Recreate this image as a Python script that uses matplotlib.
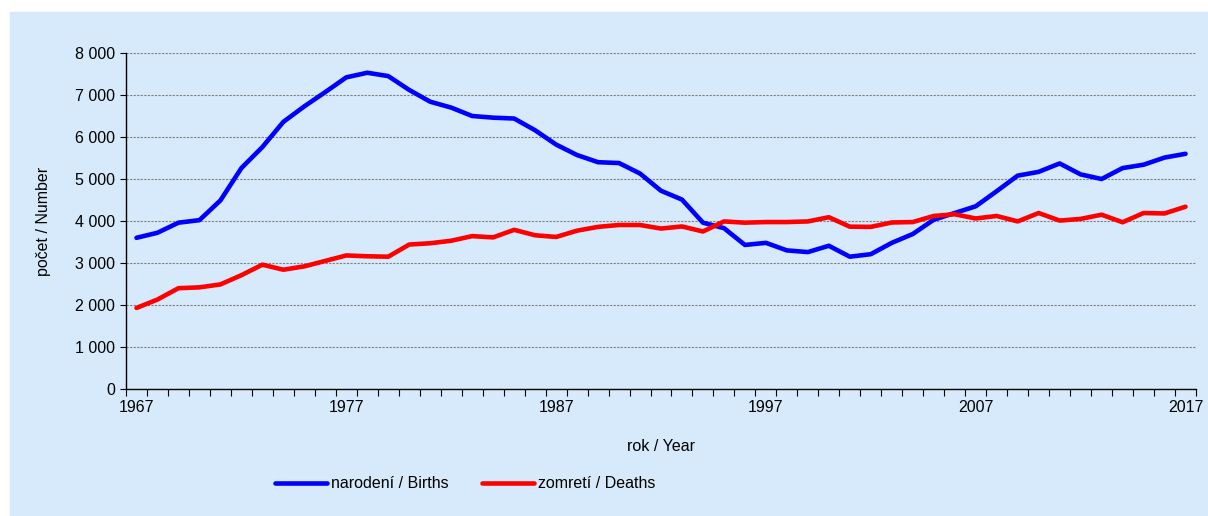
import numpy as np
import matplotlib.pyplot as plt
from matplotlib.ticker import FuncFormatter, MultipleLocator

plt.rcParams['font.family'] = ['Liberation Sans', 'DejaVu Sans']

years = list(range(1967, 2018))

births = [3600, 3720, 3960, 4020, 4490, 5260, 5760, 6360, 6730, 7070,
          7420, 7530, 7450, 7120, 6840, 6700, 6500, 6460, 6440, 6160,
          5820, 5570, 5400, 5380, 5130, 4720, 4510, 3960, 3830, 3430,
          3480, 3300, 3260, 3410, 3150, 3210, 3480, 3690, 4030, 4190,
          4350, 4710, 5080, 5170, 5370, 5110, 5000, 5260, 5340, 5510,
          5600]

deaths = [1930, 2130, 2400, 2420, 2490, 2710, 2960, 2840, 2920, 3050,
          3180, 3160, 3150, 3440, 3470, 3530, 3640, 3610, 3790, 3660,
          3620, 3770, 3860, 3905, 3905, 3820, 3870, 3750, 3990, 3960,
          3975, 3975, 3990, 4090, 3865, 3860, 3965, 3975, 4120, 4160,
          4060, 4120, 3990, 4190, 4010, 4050, 4150, 3970, 4190, 4180,
          4340]

bg = '#d6eafb'
fs = 11.5

fig = plt.figure(figsize=(12.08, 5.16), dpi=100, facecolor='white')
fig.patches.append(plt.Rectangle((10/1208, 0), 1 - 10/1208, 1 - 12/516,
                                 transform=fig.transFigure, color=bg, zorder=-1))

ax = fig.add_axes([126/1208, 127/516, 1070/1208, 336/516])
ax.set_facecolor(bg)

ax.plot(years, births, color='#0000ff', lw=3.3, label='narodení / Births', solid_capstyle='round')
ax.plot(years, deaths, color='#ff0000', lw=3.3, label='zomretí / Deaths', solid_capstyle='round')

ax.set_xlim(1966.5, 2017.5)
ax.set_ylim(0, 8000)
ax.yaxis.set_major_locator(MultipleLocator(1000))
ax.yaxis.set_major_formatter(FuncFormatter(lambda v, p: f'{int(v):,}'.replace(',', ' ')))
ax.set_xticks(range(1967, 2018, 10))
ax.set_xticks(np.arange(1966.5, 2018, 1), minor=True)
ax.tick_params(axis='x', which='major', length=0, pad=8, labelsize=fs)
ax.tick_params(axis='x', which='minor', length=5, width=0.8, direction='out')
ax.tick_params(axis='y', length=4, width=0.8, labelsize=fs, pad=4)

ax.grid(axis='y', color='#808080', linestyle=(0, (2, 1.2)), linewidth=0.8)
ax.set_axisbelow(True)
for s in ['top', 'right']:
    ax.spines[s].set_visible(False)
ax.spines['left'].set_linewidth(1)
ax.spines['bottom'].set_linewidth(1)

ax.set_xlabel('rok / Year', fontsize=fs, labelpad=17)
ax.set_ylabel('počet / Number', fontsize=fs, labelpad=17)

fig.legend(loc='center', bbox_to_anchor=(465/1208, 1 - 484/516), ncol=2,
           frameon=False, fontsize=fs, handlelength=3.25, handletextpad=0.25,
           columnspacing=2.1)

fig.savefig('out.png', dpi=100, facecolor='white')
